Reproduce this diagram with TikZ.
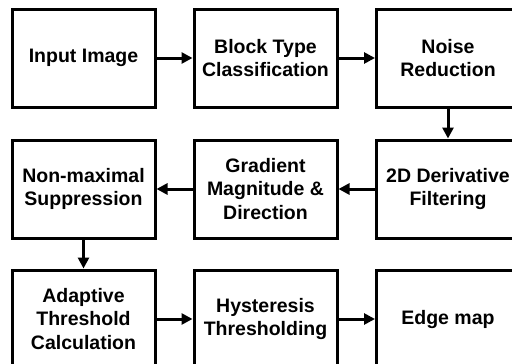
\documentclass[tikz,border=0pt]{standalone}
\usepackage{fontspec}
\setmainfont{Liberation Sans}
\usetikzlibrary{arrows.meta}
\begin{document}
\begin{tikzpicture}[x=1pt,y=1pt,
  blk/.style={draw=black, line width=3pt, minimum width=143pt, minimum height=98pt,
    align=center, font=\fontsize{19.5}{23.5}\selectfont\bfseries, inner sep=0pt},
  flow/.style={line width=3pt, -{Triangle[length=11pt,width=11pt]}}]
\useasboundingbox (0,0) rectangle (512,-364);
% first row
\node[blk] (in)  at (83.5,-58)  {Input Image};
\node[blk] (blk) at (265.5,-58) {Block Type\\Classification};
\node[blk] (nr)  at (448,-58)   {Noise\\Reduction};
% second row
\node[blk] (nms) at (83.5,-189)  {Non-maximal\\Suppression};
\node[blk] (gm)  at (265.5,-189) {Gradient\\Magnitude \&\\Direction};
\node[blk] (dd)  at (448,-189)   {2D Derivative\\Filtering};
% third row
\node[blk] (at)  at (83.5,-319)  {Adaptive\\Threshold\\Calculation};
\node[blk] (ht)  at (265.5,-319) {Hysteresis\\Thresholding};
\node[blk] (em)  at (448,-319)   {Edge map};
% connectors
\draw[flow] (in) -- (blk);
\draw[flow] (blk) -- (nr);
\draw[flow] (nr) -- (dd);
\draw[flow] (dd) -- (gm);
\draw[flow] (gm) -- (nms);
\draw[flow] (nms) -- (at);
\draw[flow] (at) -- (ht);
\draw[flow] (ht) -- (em);
\end{tikzpicture}
\end{document}
